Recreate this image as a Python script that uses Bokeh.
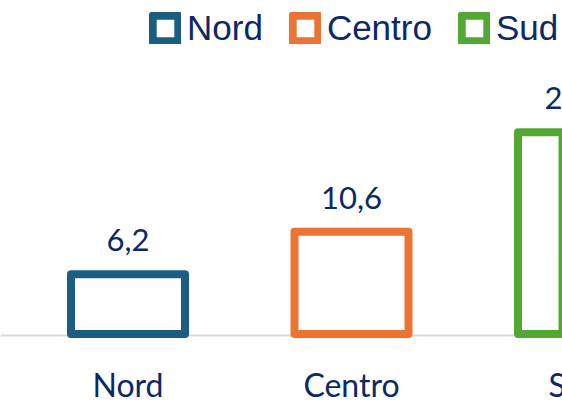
from bokeh.plotting import figure
from bokeh.models import ColumnDataSource, Span, Legend, LegendItem, Range1d
from bokeh.core.properties import value
from bokeh.embed import file_html
from bokeh.resources import INLINE

# ---- data ----
categories = ["Nord", "Centro", "Sud"]
values = [6.2, 10.6, 20.9]
value_labels = ["6,2", "10,6", "20,9"]
colors = ["#1b5e82", "#ec7433", "#53a834"]

NAVY = "#0c2865"
W, H = 562, 402

positions = list(range(len(categories)))
src = ColumnDataSource(dict(
    x=positions, top=values, cat=categories, lab=value_labels,
    color=colors, zero=[0] * len(categories)))

p = figure(width=W, height=H, output_backend="svg", toolbar_location=None,
           x_range=Range1d(-0.5705, 1.944), y_range=Range1d(-7.098, 34.56),
           x_axis_type=None, y_axis_type=None, min_border=0,
           outline_line_color=None)
p.grid.visible = False

p.add_layout(Span(location=-0.15, dimension="width", line_color="#d9d9d9",
                  line_width=2, level="underlay"))

r = p.vbar(x="x", top="top", bottom=0, width=0.51, source=src,
           fill_color="white", line_color="color", line_width=8,
           line_join="round")

p.text(x="x", y="top", text="lab", source=src, text_align="center",
       text_baseline="alphabetic", y_offset=-34, text_font=value("Lato"),
       text_font_size="31px", text_color=NAVY)

p.text(x="x", y="zero", text="cat", source=src, text_align="center",
       text_baseline="alphabetic", y_offset=50, text_font=value("Lato"),
       text_font_size="32px", text_color=NAVY)

items = [LegendItem(label=c, renderers=[r], index=i)
         for i, c in enumerate(categories)]
legend = Legend(items=items, orientation="horizontal", location=(149, 354),
                glyph_width=32, glyph_height=32, label_standoff=6, spacing=26,
                padding=0, margin=0, border_line_color=None,
                background_fill_alpha=0, label_text_font="Liberation Sans",
                label_text_font_size="35px", label_text_color=NAVY)
p.add_layout(legend)

open("out.html", "w").write(file_html(p, INLINE))
